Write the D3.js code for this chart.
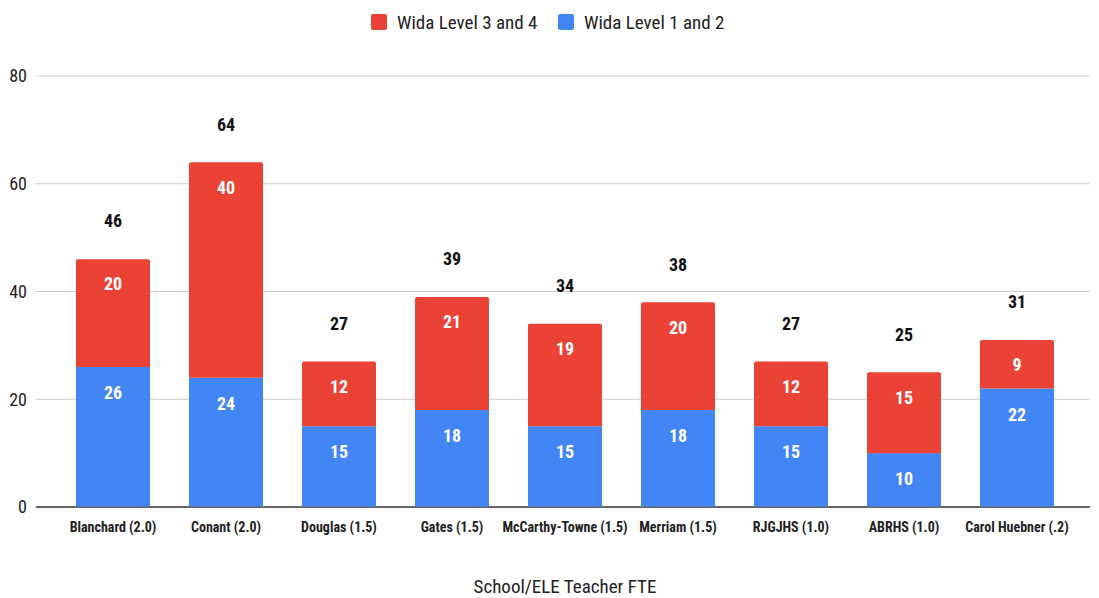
<!DOCTYPE html>
<html><head><meta charset="utf-8">
<script src="https://cdn.jsdelivr.net/npm/d3@7"></script>
<style>
body{margin:0;background:#fff;}
text{font-family:"Liberation Sans Narrow","Roboto Condensed",Roboto,"Liberation Sans",Arial,sans-serif;}
</style></head><body>
<svg id="c" width="1099" height="598"></svg>
<script>
const categories = ["Blanchard (2.0)","Conant (2.0)","Douglas (1.5)","Gates (1.5)","McCarthy-Towne (1.5)","Merriam (1.5)","RJGJHS (1.0)","ABRHS (1.0)","Carol Huebner (.2)"];
const level12 = [26,24,15,18,15,18,15,10,22];
const level34 = [20,40,12,21,19,20,12,15,9];
const yTicks = [0,20,40,60,80];
const seriesNames = ["Wida Level 3 and 4","Wida Level 1 and 2"];
const colors = {l34:"#EA4335", l12:"#4285F4"};

const svg = d3.select("#c");
const y = d3.scaleLinear().domain([0,80]).range([507,76]);
const x = d3.scaleBand().domain(categories).range([56.5,1073.5]).paddingInner(0.345).paddingOuter(0.1725);

// gridlines
svg.append("g").selectAll("line").data(yTicks).join("line")
  .attr("x1",36).attr("x2",1090).attr("y1",d=>y(d)).attr("y2",d=>y(d))
  .attr("stroke",d=>d===0?"#333":"#ccc").attr("stroke-width",d=>d===0?1.5:1);
svg.append("g").selectAll("text").data(yTicks).join("text")
  .attr("x",27).attr("y",d=>y(d)).attr("dy","0.35em").attr("text-anchor","end")
  .attr("font-size",18).attr("fill","#222").text(d=>d);

const data = categories.map((c,i)=>({c,a:level12[i],b:level34[i],t:level12[i]+level34[i]}));

function topRounded(x0,y0,w,h,r){
  return `M${x0},${y0+h}V${y0+r}Q${x0},${y0} ${x0+r},${y0}H${x0+w-r}Q${x0+w},${y0} ${x0+w},${y0+r}V${y0+h}Z`;
}
const g = svg.append("g");
g.selectAll("rect.a").data(data).join("rect").attr("class","a")
  .attr("x",d=>x(d.c)).attr("width",x.bandwidth())
  .attr("y",d=>y(d.a)).attr("height",d=>y(0)-y(d.a)-0.5).attr("fill",colors.l12);
g.selectAll("path.b").data(data).join("path").attr("class","b")
  .attr("d",d=>topRounded(x(d.c),y(d.t),x.bandwidth(),y(d.a)-y(d.t),2)).attr("fill",colors.l34);

// inside labels
g.selectAll("text.la").data(data).join("text")
  .attr("x",d=>x(d.c)+x.bandwidth()/2).attr("y",d=>y(d.a)+26).attr("dy","0.35em")
  .attr("text-anchor","middle").attr("fill","#fff").attr("font-weight","bold").attr("font-size",18).text(d=>d.a);
g.selectAll("text.lb").data(data).join("text")
  .attr("x",d=>x(d.c)+x.bandwidth()/2).attr("y",d=>y(d.t)+25).attr("dy","0.35em")
  .attr("text-anchor","middle").attr("fill","#fff").attr("font-weight","bold").attr("font-size",18).text(d=>d.b);
g.selectAll("text.lt").data(data).join("text")
  .attr("x",d=>x(d.c)+x.bandwidth()/2).attr("y",d=>y(d.t)-38).attr("dy","0.35em")
  .attr("text-anchor","middle").attr("fill","#111").attr("font-weight","bold").attr("font-size",18).text(d=>d.t);

// category labels
svg.append("g").selectAll("text").data(categories).join("text")
  .attr("x",d=>x(d)+x.bandwidth()/2).attr("y",527).attr("dy","0.35em")
  .attr("text-anchor","middle").attr("fill","#222").attr("font-weight","bold").attr("font-size",14).text(d=>d);

svg.append("text").attr("x",565).attr("y",586).attr("dy","0.35em").attr("text-anchor","middle")
  .attr("font-size",19).attr("fill","#222").text("School/ELE Teacher FTE");

// legend
const leg = svg.append("g");
const legItems = [{n:seriesNames[0],c:colors.l34,x:371},{n:seriesNames[1],c:colors.l12,x:558}];
legItems.forEach(it=>{
  leg.append("rect").attr("x",it.x).attr("y",14).attr("width",16).attr("height",16).attr("rx",2).attr("fill",it.c);
  leg.append("text").attr("x",it.x+26).attr("y",22).attr("dy","0.35em").attr("font-size",19).attr("fill","#222").text(it.n);
});
</script></body></html>
